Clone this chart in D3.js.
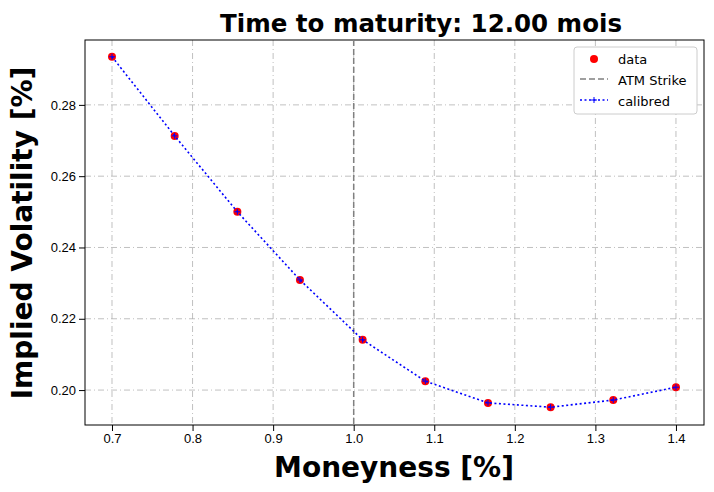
<!DOCTYPE html>
<html><head><meta charset="utf-8">
<script src="https://cdn.jsdelivr.net/npm/d3@7"></script>
<style>body{margin:0;background:#fff}svg{font-family:"DejaVu Sans",sans-serif}</style>
</head><body><div id="chart"></div>
<script>
const moneyness = [0.7, 0.7778, 0.8556, 0.9333, 1.0111, 1.0889, 1.1667, 1.2444, 1.3222, 1.4];
const volData = [0.2935, 0.2713, 0.2500, 0.2309, 0.2141, 0.2025, 0.1964, 0.1952, 0.1972, 0.2008];
const volCalib = [0.2935, 0.2713, 0.2500, 0.2309, 0.2141, 0.2025, 0.1964, 0.1952, 0.1972, 0.2008];
const xTicks = [0.7, 0.8, 0.9, 1.0, 1.1, 1.2, 1.3, 1.4];
const yTicks = [0.20, 0.22, 0.24, 0.26, 0.28];
const atm = 1.0;

const W = 714, H = 492, m = {l: 85, r: 10, t: 40, b: 67};
const svg = d3.select('#chart').append('svg').attr('width', W).attr('height', H);
const x = d3.scaleLinear().domain([0.6665, 1.4348]).range([m.l, W - m.r]);
const y = d3.scaleLinear().domain([0.1902, 0.2982]).range([H - m.b, m.t]);

// grid
svg.append('g').selectAll('line').data(xTicks).join('line')
  .attr('x1', d => x(d)).attr('x2', d => x(d)).attr('y1', m.t).attr('y2', H - m.b)
  .attr('stroke', '#b0b0b0').attr('stroke-width', 0.8).attr('stroke-dasharray', '6,3,1,3');
svg.append('g').selectAll('line').data(yTicks).join('line')
  .attr('y1', d => y(d)).attr('y2', d => y(d)).attr('x1', m.l).attr('x2', W - m.r)
  .attr('stroke', '#b0b0b0').attr('stroke-width', 0.8).attr('stroke-dasharray', '6,3,1,3');

const gx = svg.append('g').attr('transform', `translate(0,${H - m.b})`)
  .call(d3.axisBottom(x).tickValues(xTicks).tickFormat(d3.format('.1f')).tickSizeOuter(0));
const gy = svg.append('g').attr('transform', `translate(${m.l},0)`)
  .call(d3.axisLeft(y).tickValues(yTicks).tickFormat(d3.format('.2f')).tickSizeOuter(0));
[gx, gy].forEach(g => { g.selectAll('text').attr('font-size', 13).attr('fill', '#000'); g.select('.domain').remove(); });

svg.append('rect').attr('x', m.l).attr('y', m.t).attr('width', W - m.l - m.r).attr('height', H - m.t - m.b)
  .attr('fill', 'none').attr('stroke', '#000');

// ATM
svg.append('line').attr('x1', x(atm)).attr('x2', x(atm)).attr('y1', m.t).attr('y2', H - m.b)
  .attr('stroke', 'gray').attr('stroke-width', 1.5).attr('stroke-dasharray', '6,3');

// data
svg.append('g').selectAll('circle').data(moneyness).join('circle')
  .attr('cx', d => x(d)).attr('cy', (d, i) => y(volData[i])).attr('r', 4).attr('fill', 'red');

// calibrated
const line = d3.line().x(d => x(d[0])).y(d => y(d[1]));
svg.append('path').datum(moneyness.map((d, i) => [d, volCalib[i]])).attr('d', line)
  .attr('fill', 'none').attr('stroke', 'blue').attr('stroke-width', 1.6).attr('stroke-dasharray', '2,2.5');
svg.append('g').selectAll('path').data(moneyness).join('path')
  .attr('d', (d, i) => `M${x(d) - 3},${y(volCalib[i])}h6M${x(d)},${y(volCalib[i]) - 3}v6`)
  .attr('stroke', 'blue').attr('stroke-width', 1);

// titles
svg.append('text').attr('x', 421).attr('y', 32).attr('text-anchor', 'middle')
  .attr('font-size', 24.5).attr('font-weight', 'bold').text('Time to maturity: 12.00 mois');
svg.append('text').attr('x', 394).attr('y', 477).attr('text-anchor', 'middle')
  .attr('font-size', 28).attr('font-weight', 'bold').text('Moneyness [%]');
svg.append('text').attr('transform', `translate(32,233) rotate(-90)`).attr('text-anchor', 'middle')
  .attr('font-size', 28).attr('font-weight', 'bold').text('Implied Volatility [%]');

// legend
const lg = svg.append('g').attr('transform', 'translate(574,47)');
lg.append('rect').attr('width', 123).attr('height', 67).attr('rx', 3).attr('fill', '#fff')
  .attr('stroke', '#ccc');
lg.append('circle').attr('cx', 20).attr('cy', 12).attr('r', 4).attr('fill', 'red');
lg.append('line').attr('x1', 6).attr('x2', 34).attr('y1', 32).attr('y2', 32).attr('stroke', 'gray')
  .attr('stroke-width', 1.5).attr('stroke-dasharray', '6,3');
lg.append('line').attr('x1', 6).attr('x2', 34).attr('y1', 53).attr('y2', 53).attr('stroke', 'blue')
  .attr('stroke-width', 1.6).attr('stroke-dasharray', '2,2.5');
lg.append('path').attr('d', 'M17,53h6M20,50v6').attr('stroke', 'blue');
['data', 'ATM Strike', 'calibred'].forEach((t, i) =>
  lg.append('text').attr('x', 44).attr('y', 17 + i * 21).attr('font-size', 13).text(t));
</script></body></html>
